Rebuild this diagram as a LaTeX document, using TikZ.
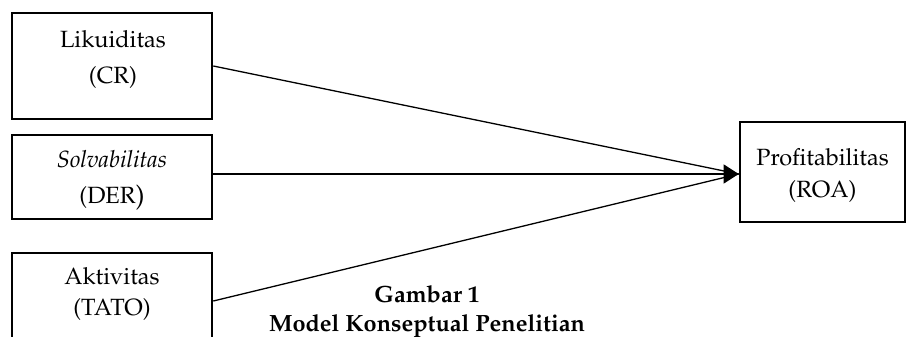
\documentclass[tikz,border=0pt]{standalone}
\usepackage[T1]{fontenc}
\usepackage{mathpazo}
\usetikzlibrary{arrows.meta}
\begin{document}
\begin{tikzpicture}[x=1pt,y=-1pt,
  box/.style={draw=black,line width=2.6pt,rectangle,inner sep=0pt},
  txt/.style={inner sep=0pt,anchor=base,font=\fontsize{23.5}{31}\selectfont},
  captxt/.style={inner sep=0pt,anchor=base,font=\fontsize{23.5}{30}\selectfont\bfseries},
  conn/.style={draw=black,line width=1.3pt}]
\fill[white] (0,0) rectangle (907,337);
\useasboundingbox (0,0) rectangle (907,337);
\clip (0,0) rectangle (907,337);
% boxes
\node[box,minimum width=200pt,minimum height=106pt] (b1) at (112,66) {};
\node[box,minimum width=200pt,minimum height=84pt] (b2) at (112,177) {};
\node[box,minimum width=200pt,minimum height=96pt] (b3) at (112,301) {};
\node[box,minimum width=165pt,minimum height=100pt] (b4) at (822.5,172) {};
% texts
\node[txt] (t1a) at (113,48) {Likuiditas};
\node[txt] (t1b) at (113,84) {(CR)};
\node[txt] (t2a) at (112,167) {\itshape Solvabilitas};
\node[txt] (t2b) at (112,203) {(DER\raisebox{-1pt}{\fontsize{27}{31}\selectfont)}};
\node[txt] (t3a) at (112,284) {Aktivitas};
\node[txt] (t3b) at (112,315) {(TATO)};
\node[txt] (t4a) at (822.5,165) {Profitabilitas};
\node[txt] (t4b) at (822.5,197) {(ROA)};
\node[captxt] (c1) at (427,302) {Gambar 1};
\node[captxt] (c2) at (427,331) {Model Konseptual Penelitian};
% connectors
\coordinate (tip) at ([yshift=-2pt]b4.west);
\draw[conn] (b1.east) -- (tip);
\draw[conn] (b3.east) -- (tip);
\draw[conn,-{Triangle[length=15pt,width=19pt]}] ([yshift=3pt]b2.east) -- (tip);
\end{tikzpicture}
\end{document}
